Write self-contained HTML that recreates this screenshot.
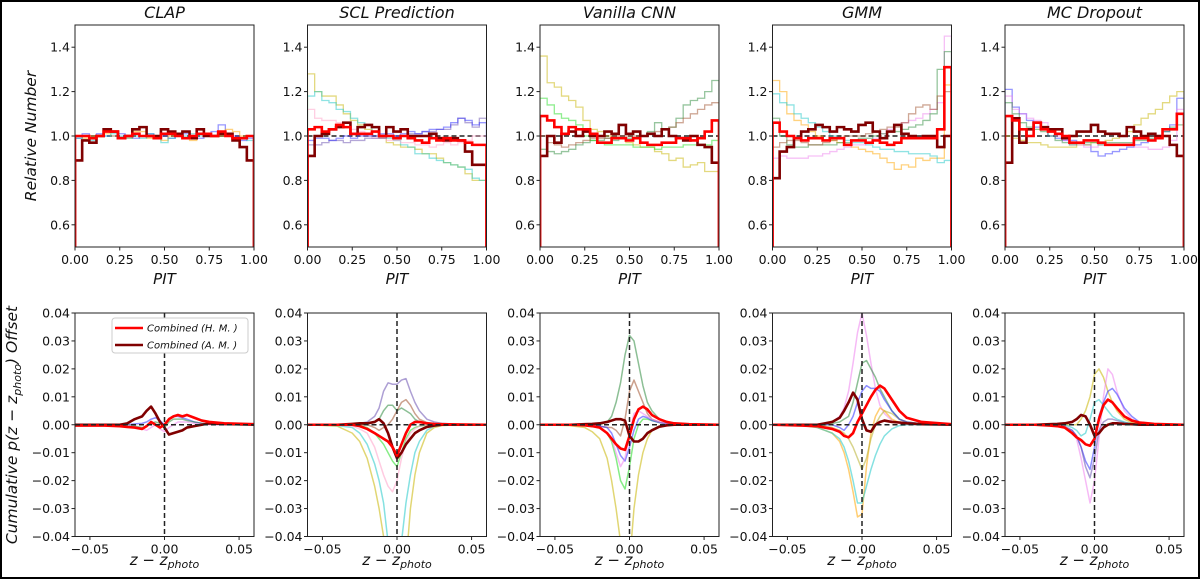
<!DOCTYPE html>
<html><head><meta charset="utf-8"><style>
html,body{margin:0;padding:0;background:#fff;width:1200px;height:579px;overflow:hidden}
svg{display:block}
text{font-family:"DejaVu Sans","Liberation Sans",sans-serif;fill:#111}
</style></head><body>
<svg id="fig" width="1200" height="579" viewBox="0 0 1200 579" xmlns="http://www.w3.org/2000/svg">
<rect x="1" y="1" width="1198" height="577" fill="#fff" stroke="#000" stroke-width="2"/>
</svg>
<script>
// ---- data ----
const titles = ["CLAP","SCL Prediction","Vanilla CNN","GMM","MC Dropout"];
const histTicks = [0.6,0.8,1.0,1.2,1.4];
const histXTicks = [0,0.25,0.5,0.75,1.0];
const histXTickLabels = ["0.00","0.25","0.50","0.75","1.00"];
const cumTicks = [0.04,0.03,0.02,0.01,0,-0.01,-0.02,-0.03,-0.04];
const cumTickLabels = ["0.04","0.03","0.02","0.01","0.00","\u22120.01","\u22120.02","\u22120.03","\u22120.04"];
const cumXTicks = [-0.05,0,0.05];
const cumXTickLabels = ["\u22120.05","0.00","0.05"];
// cumulative x grid (units of 0.001)
const zx = [-60,-40,-30,-25,-20,-15,-12,-9,-6,-3,0,3,6,9,12,15,20,25,30,40,60];

// Histograms (25 bins)
const clapRed = [1.0,1.0,0.99,1.0,1.02,1.02,0.99,1.0,1.01,1.0,1.0,0.99,1.01,1.01,1.0,0.99,1.0,1.01,1.01,1.0,1.02,1.0,0.99,0.99,1.0];
const clapDark = [0.89,0.98,0.97,1.0,1.03,1.02,0.99,1.0,1.03,1.04,1.0,1.0,1.03,1.02,1.01,1.02,0.99,1.03,1.0,1.0,1.01,1.01,0.98,0.95,0.89];
const clapBlue = [0.99,1.01,0.97,1.01,1.0,1.0,1.01,1.0,0.99,1.0,1.01,1.0,1.0,0.99,1.0,1.01,1.0,0.99,1.01,1.02,1.05,1.01,1.0,0.98,0.99];
const clapOrange = [1.0,0.99,1.0,1.0,1.01,1.0,0.99,0.99,1.02,1.02,0.99,1.0,0.98,1.0,1.0,0.99,0.98,1.01,1.0,1.0,1.0,1.03,1.02,1.0,1.0];
const clapCyan = [0.99,1.0,0.98,1.0,1.0,1.01,1.0,0.99,1.0,0.99,1.01,1.0,0.97,0.99,1.0,1.0,1.01,1.0,1.0,1.0,1.01,1.0,0.99,0.99,0.98];
const sclRed = [1.03,1.04,1.02,1.03,1.05,1.04,1.01,1.01,1.01,1.02,1.0,1.0,0.99,1.0,0.99,0.98,0.97,0.99,0.98,0.99,0.98,0.98,0.97,0.96,0.96];
const sclDark = [0.91,1.0,1.01,1.03,1.04,1.06,1.01,1.04,1.05,1.04,1.0,1.04,1.02,1.03,1.0,1.0,1.0,1.01,0.99,0.98,0.99,0.98,0.93,0.87,0.87];
const sclYellow = [1.28,1.2,1.18,1.18,1.14,1.1,1.07,1.05,1.03,1.02,0.99,0.97,0.96,0.95,0.95,0.94,0.92,0.92,0.9,0.88,0.87,0.86,0.83,0.8,0.8];
const sclCyan = [1.18,1.2,1.16,1.15,1.12,1.11,1.08,1.06,1.05,1.02,1.0,0.99,0.98,0.96,0.95,0.92,0.92,0.9,0.89,0.88,0.87,0.86,0.85,0.81,0.8];
const sclPink = [1.12,1.08,1.07,1.07,1.06,1.04,1.03,1.02,1.0,0.99,0.99,0.98,0.98,0.97,0.97,0.96,0.96,0.95,0.96,0.97,0.96,0.97,0.98,1.0,1.0];
const sclPurple = [0.96,0.96,0.97,0.98,0.98,0.97,0.98,0.98,0.99,0.99,0.99,1.0,1.0,1.0,1.01,1.01,1.02,1.02,1.03,1.03,1.05,1.08,1.06,1.04,1.08];
const sclBlue = [0.98,0.99,0.99,0.98,0.99,1.0,0.99,1.0,1.0,1.0,1.01,1.01,1.0,1.01,1.02,1.01,1.02,1.03,1.03,1.04,1.06,1.08,1.07,1.05,1.06];
const cnnRed = [1.09,1.07,1.04,1.01,1.04,1.03,1.03,1.01,0.97,0.97,0.99,0.99,0.98,0.99,0.97,0.96,0.96,0.97,0.97,0.99,0.99,0.98,0.99,1.02,1.07];
const cnnDark = [0.91,1.0,0.97,1.01,1.02,1.0,1.02,1.0,1.0,1.02,1.01,1.05,1.01,1.02,1.0,1.01,1.0,1.03,1.0,0.99,0.98,1.0,0.96,0.95,0.88];
const cnnYellow = [1.36,1.24,1.22,1.18,1.16,1.13,1.07,1.03,1.02,1.0,0.99,0.99,0.97,0.96,0.95,0.95,0.93,0.92,0.89,0.9,0.86,0.87,0.88,0.84,0.84];
const cnnGreen = [0.94,0.93,0.92,0.93,0.94,0.96,0.97,0.98,0.98,0.99,0.98,0.99,0.99,0.99,1.0,1.02,1.06,1.03,1.04,1.08,1.14,1.16,1.17,1.2,1.25];
const cnnLime = [1.17,1.14,1.1,1.08,1.07,1.05,1.0,0.98,0.97,0.96,0.96,0.96,0.96,0.95,0.95,0.95,0.94,0.95,0.95,0.95,0.96,0.96,0.96,0.96,0.98];
const cnnBrown = [1.0,0.97,0.96,0.95,0.96,0.97,0.98,0.99,0.99,0.99,1.0,1.0,1.0,1.0,1.0,1.01,1.02,1.03,1.04,1.06,1.08,1.1,1.12,1.14,1.15];
const gmmRed = [1.06,1.02,1.0,0.99,0.98,0.99,0.99,0.98,0.99,0.99,0.96,0.98,0.98,0.97,0.98,0.97,0.96,0.97,0.99,0.99,0.99,0.99,0.99,1.03,1.31];
const gmmDark = [0.81,0.93,0.95,0.99,1.02,1.03,1.05,1.04,1.02,1.04,1.03,1.02,1.05,1.06,1.02,0.99,1.02,1.05,1.01,1.0,0.99,1.0,1.0,0.95,1.0];
const gmmOrange = [1.25,1.2,1.1,1.07,1.05,1.02,1.0,0.98,0.98,0.97,0.96,0.95,0.94,0.93,0.92,0.9,0.88,0.85,0.87,0.86,0.9,0.89,0.9,0.9,1.23];
const gmmCyan = [1.19,1.15,1.14,1.1,1.08,1.06,1.04,1.02,1.0,0.99,0.98,0.97,0.97,0.96,0.95,0.94,0.94,0.93,0.93,0.92,0.92,0.92,0.91,0.88,0.89];
const gmmViolet = [0.9,0.91,0.9,0.9,0.9,0.91,0.91,0.92,0.93,0.94,0.95,0.96,0.96,0.97,0.99,1.01,1.03,1.05,1.06,1.07,1.08,1.1,1.12,1.15,1.45];
const gmmGreen = [1.08,1.0,0.96,0.95,0.95,0.96,0.96,0.96,0.96,0.97,0.97,0.98,0.99,0.99,1.0,1.01,1.02,1.02,1.03,1.04,1.05,1.07,1.1,1.3,1.38];
const gmmBrown = [0.95,0.97,0.98,0.98,0.97,0.96,0.96,0.97,0.98,0.99,1.0,1.0,1.0,1.01,1.02,1.03,1.04,1.04,1.06,1.1,1.13,1.14,1.12,1.18,1.2];
const mcRed = [1.09,1.07,1.03,1.0,1.06,1.03,1.02,1.01,1.0,0.97,0.97,0.98,0.98,0.97,0.96,0.96,0.96,0.96,0.99,0.99,0.98,0.99,1.03,1.03,1.1];
const mcDark = [0.88,1.08,0.97,1.03,1.06,1.04,1.03,1.03,0.99,1.0,1.02,1.02,1.05,1.02,1.01,1.01,1.0,1.04,1.02,1.0,1.01,1.0,1.0,0.96,0.91];
const mcBlue = [1.21,1.13,1.1,1.07,1.04,1.03,1.0,0.99,0.98,0.98,0.97,0.96,0.93,0.91,0.92,0.93,0.94,0.95,0.96,0.97,0.98,1.0,1.02,1.05,1.17];
const mcYellow = [1.0,0.99,0.98,0.97,0.97,0.96,0.95,0.95,0.95,0.95,0.96,0.96,0.97,0.97,0.98,0.99,1.0,1.02,1.05,1.08,1.1,1.12,1.15,1.18,1.2];
const mcPink = [1.18,1.12,1.1,1.08,1.07,1.06,1.02,1.0,0.98,0.96,0.96,0.95,0.95,0.96,0.96,0.96,0.96,0.96,0.95,0.95,0.94,0.94,0.95,0.98,1.12];
const mcGreen = [1.15,1.1,1.06,1.04,1.03,1.02,1.0,0.98,0.97,0.96,0.97,0.97,0.97,0.96,0.97,0.97,0.97,0.97,0.98,0.98,0.99,1.0,1.02,1.04,1.05];

// Cumulative offsets (units 0.001) on zx grid
const clapCRed = [-0.3,-0.3,-0.5,-0.8,-1,-1.5,-0.5,1,0,-1,0,2,3,3.5,3,3.5,2.5,1.5,1,0.5,0.2];
const clapCDark = [0,0,0,0.5,2,3,5,6.5,4,1,-1,-3.5,-3,-2.5,-2,-1,-0.5,0,0.5,0.3,0];
const clapCBlue = [0,0,0,0,0.3,0.5,1,2,2.5,1.5,0,2,3,3,2.5,2,1,0.5,0.2,0.1,0];
const clapCGreen = [0,0,0,0,-0.5,-1,-0.5,0.5,1,0.5,-1,1,2,2,2,1.5,1,0.5,0.2,0,0];
const clapCPink = [0,0,0,-0.3,-0.8,-1.5,-2,-1,0,-1.5,-2.5,-1,0,1,1,1,0.5,0.2,0,0,0];
const sclCRed = [0,0,0,-0.5,-1.5,-3,-4,-5,-6,-8,-11,-7,-3,0,1,1,0.5,0.3,0.2,0.1,0];
const sclCDark = [0,0,0.3,0.5,0.5,1,2,0.5,-3,-8,-12,-10,-7,-5,-3,-2,-0.8,-0.3,0,0,0];
const sclCYellow = [0,-0.5,-3,-6,-12,-22,-30,-40,-60,-80,-90,-70,-50,-30,-18,-10,-3,-1,-0.3,0,0];
const sclCCyan = [0,-0.3,-1,-3,-7,-14,-20,-28,-42,-60,-80,-42,-28,-18,-10,-6,-2,-0.5,-0.2,0,0];
const sclCPurple = [0,0,0.3,0.5,1,3,6,12,15,14.5,14.5,16,16.5,12,8,5,2,1,0.5,0.2,0];
const sclCLime = [0,0,0,-0.3,-1,-3,-5,-7,-10,-13,-15,-10,-5,-2,-1,-0.5,-0.2,0,0,0,0];
const sclCPink = [0,0,-0.5,-1.5,-3,-8,-13,-18,-22,-24,-20,-12,-6,-3,-1.5,-0.5,0,0,0,0,0];
const sclCGreen = [0,0,0,0,0.5,1,2,5,7,7,5,6,5,4,2,1,0.5,0,0,0,0];
const sclCBrown = [0,0,0,0,0,-1,-2,-1,0,2,5,8,9,7,4,2,0.8,0.3,0,0,0];
const cnnCRed = [0,0,-0.2,-0.5,-1,-3,-5,-7,-8.5,-9,-4,2,5.5,6.5,5.5,3.5,2,1,0.5,0.2,0];
const cnnCDark = [0,0,0.2,0.3,0.5,1,1.5,2,2,1.5,-4,-6,-6,-5,-3,-2,-0.7,-0.2,0,0,0];
const cnnCGreen = [0,0,0,0,0,1,3,8,15,25,32,30,22,14,8,5,2,0.8,0.3,0.1,0];
const cnnCYellow = [0,-0.3,-1,-2.5,-5,-12,-20,-30,-42,-60,-50,-30,-18,-10,-5,-2,-0.5,0,0,0,0];
const cnnCLime = [0,0,0,-0.5,-1,-3,-6,-12,-20,-23,-15,-5,0,2,2,1.5,0.8,0.3,0,0,0];
const cnnCBrown = [0,0,0,0,-0.5,-1,-1,-2,-4,2,12,16,12,8,4,2,1,0.3,0,0,0];
const cnnCBlue = [0,0,0,0,-0.5,-1,-3,-7,-11,-13,-8,-2,2,3,2.5,1.5,0.8,0.3,0,0,0];
const cnnCViolet = [0,0,0,0,-1,-3,-5,-10,-15,-12,-3,4,5,4,3,2,1,0.3,0,0,0];
const gmmCRed = [0,-0.3,-0.5,-1,-1.5,-2.5,-4,-4.5,-3,1,4,7,10,12.5,14,13,9,5,2.5,1,0.2];
const gmmCDark = [0,0,0,0.5,1,2.5,5,8,11.5,9,2,-2,-2.5,0,1,1.5,1,0.8,0.5,0.2,0];
const gmmCPink = [0,0,0.2,0.5,1,3,6,12,22,33,40,32,22,13,7,4,1.5,0.5,0.2,0,0];
const gmmCOrange = [0,-0.3,-1,-2,-3,-6,-10,-16,-24,-33,-32,-15,-3,3,6,5,2,0.8,0.3,0,0];
const gmmCCyan = [0,-0.2,-1,-2,-3,-5,-8,-13,-20,-28,-28,-22,-16,-11,-7,-4,-1.5,-0.3,0,0,0];
const gmmCGreen = [0,0,0,0,0.5,1,2,3,8,15,22,23,20,17,13,10,5,2,1,0.3,0];
const gmmCOlive = [0,0,-0.3,-0.5,-1,-2,-3,-5,-8,-12,-16,-12,-5,0,3,5,4,2,1,0.3,0];
const gmmCBlue = [0,0,0,0,0,-1,-2,0,3,8,12,14,13,13,12,9,5,2,1,0.3,0];
const mcCRed = [0,0,-0.3,-0.5,-1,-3,-4.5,-5.5,-7,-7.5,-5,2,7,9,8,6,3,1.5,0.8,0.3,0];
const mcCDark = [0,0,0.2,0.3,0.5,1,2,3.5,3,0,-4,-3,-1,0,0.5,0.5,0.3,0.2,0,0,0];
const mcCYellow = [0,0,0,0,0,0,0,2,5,10,18,20,17,12,8,5,2,0.8,0.3,0,0];
const mcCPink = [0,0,0,-0.3,-1,-3,-5,-12,-20,-28,-20,-5,10,20,18,12,5,2,0.8,0.2,0];
const mcCBlue = [0,0,0,-0.3,-1,-2,-4,-8,-13,-16,-8,3,8,12,13,11,6,3,1,0.3,0];
const mcCViolet = [0,0,0,0,-0.5,-2,-4,-8,-15,-19,-12,-2,1,2,2,1.5,0.8,0.3,0,0,0];
const mcCCyan = [0,0,0,0,0,-1,-2,-4,-3,2,8,9,7,5,3,2,1,0.3,0,0,0];

const C = {red:"#ff0000",dark:"#800000",yellow:"#c8b400",cyan:"#20c8c8",green:"#2e8b3e",lime:"#22dd22",pink:"#ffa0c8",violet:"#ee82ee",blue:"#3030ff",purple:"#6a50b0",brown:"#a0522d",orange:"#ffa500",olive:"#b8b030"};
const panelsHist = [
 [[clapBlue,"blue"],[clapOrange,"orange"],[clapCyan,"cyan"],[clapDark,"dark"],[clapRed,"red"]],
 [[sclYellow,"yellow"],[sclCyan,"cyan"],[sclPink,"pink"],[sclPurple,"purple"],[sclBlue,"blue"],[sclDark,"dark"],[sclRed,"red"]],
 [[cnnYellow,"yellow"],[cnnGreen,"green"],[cnnLime,"lime"],[cnnBrown,"brown"],[cnnDark,"dark"],[cnnRed,"red"]],
 [[gmmOrange,"orange"],[gmmCyan,"cyan"],[gmmViolet,"violet"],[gmmGreen,"green"],[gmmBrown,"brown"],[gmmDark,"dark"],[gmmRed,"red"]],
 [[mcBlue,"blue"],[mcYellow,"yellow"],[mcPink,"violet"],[mcGreen,"green"],[mcDark,"dark"],[mcRed,"red"]]
];
const panelsCum = [
 [[clapCBlue,"blue"],[clapCGreen,"green"],[clapCPink,"violet"],[clapCDark,"dark"],[clapCRed,"red"]],
 [[sclCYellow,"yellow"],[sclCCyan,"cyan"],[sclCPurple,"purple"],[sclCLime,"lime"],[sclCPink,"pink"],[sclCGreen,"green"],[sclCBrown,"brown"],[sclCDark,"dark"],[sclCRed,"red"]],
 [[cnnCGreen,"green"],[cnnCYellow,"yellow"],[cnnCLime,"lime"],[cnnCBrown,"brown"],[cnnCBlue,"blue"],[cnnCViolet,"violet"],[cnnCDark,"dark"],[cnnCRed,"red"]],
 [[gmmCPink,"violet"],[gmmCOrange,"orange"],[gmmCCyan,"cyan"],[gmmCGreen,"green"],[gmmCOlive,"olive"],[gmmCBlue,"blue"],[gmmCDark,"dark"],[gmmCRed,"red"]],
 [[mcCYellow,"yellow"],[mcCPink,"violet"],[mcCBlue,"blue"],[mcCViolet,"purple"],[mcCCyan,"cyan"],[mcCDark,"dark"],[mcCRed,"red"]]
];

// ---- drawing ----
const NS="http://www.w3.org/2000/svg";
const svg=document.getElementById("fig");
function mk(tag,attrs,parent){const e=document.createElementNS(NS,tag);for(const k in attrs)e.setAttribute(k,attrs[k]);(parent||svg).appendChild(e);return e;}
const PL=[75,307.5,540,772.5,1005], PW=179;
const TT=25,TB=247, BT=313,BB=536.5;
// clip polyline to y range [lo,hi] (pixel), returns array of segments
function clipPoly(pts,lo,hi){
  const segs=[];let cur=[];
  const inR=p=>p[1]>=lo&&p[1]<=hi;
  const cross=(a,b,y)=>[a[0]+(b[0]-a[0])*(y-a[1])/(b[1]-a[1]),y];
  for(let i=0;i<pts.length;i++){
    const p=pts[i];
    if(i>0){const a=pts[i-1];
      if(inR(a)&&!inR(p)){cur.push(cross(a,p,p[1]>hi?hi:lo));segs.push(cur);cur=[];}
      else if(!inR(a)&&inR(p)){cur=[cross(a,p,a[1]>hi?hi:lo)];}
    }
    if(inR(p))cur.push(p);
  }
  if(cur.length)segs.push(cur);
  return segs;
}
const defs=mk("defs",{});
PL.forEach((x0,i)=>{
  const hx=v=>x0+v*PW, hy=v=>TB-(v-0.5)/1.0*(TB-TT);
  const cx=v=>x0+(v+0.06)/0.12*PW, cy=v=>BB-(v+0.04)/0.08*(BB-BT);
  const c1=mk("clipPath",{id:"ct"+i},defs);mk("rect",{x:x0,y:TT,width:PW,height:TB-TT},c1);
  const c2=mk("clipPath",{id:"cb"+i},defs);mk("rect",{x:x0,y:BT,width:PW,height:BB-BT},c2);
  const t=mk("text",{x:x0+PW/2,y:18,"text-anchor":"middle","font-size":"16","font-style":"italic"});t.textContent=titles[i];
  
  
  const gt=mk("g",{"clip-path":"url(#ct"+i+")"});
  
  
  mk("line",{x1:x0,x2:x0+PW,y1:hy(1),y2:hy(1),stroke:"#222","stroke-width":1.5,"stroke-dasharray":"5,3"},gt);
  panelsHist[i].forEach(([vals,col])=>{
    const n=vals.length;let d="M"+hx(0)+","+hy(0.5);
    vals.forEach((v,k)=>{d+=" L"+hx(k/n)+","+hy(v)+" L"+hx((k+1)/n)+","+hy(v);});
    d+=" L"+hx(1)+","+hy(0.5);
    const main=(col==="red"||col==="dark");
    const p=mk("path",{d:d,fill:"none",stroke:C[col],"stroke-width":main?2.6:1.3,opacity:main?1:0.5},gt);
    
    
  });
  const ft=mk("rect",{x:x0,y:TT,width:PW,height:TB-TT,fill:"none",stroke:"#222","stroke-width":1});
  
  
  histTicks.forEach(v=>{mk("line",{x1:x0-3.5,x2:x0,y1:hy(v),y2:hy(v),stroke:"#222"});
    const tl=mk("text",{x:x0-5,y:hy(v)+4.5,"text-anchor":"end","font-size":"12.5"});tl.textContent=v.toFixed(1);
    
    });
  histXTicks.forEach((v,k)=>{mk("line",{x1:hx(v),x2:hx(v),y1:TB,y2:TB+3.5,stroke:"#222"});
    const tl=mk("text",{x:hx(v),y:TB+17,"text-anchor":"middle","font-size":"12.5"});tl.textContent=histXTickLabels[k];
    
    });
  const xl=mk("text",{x:x0+PW/2,y:284,"text-anchor":"middle","font-size":"15","font-style":"italic"});xl.textContent="PIT";
  
  
  const gb=mk("g",{"clip-path":"url(#cb"+i+")"});
  
  
  panelsCum[i].forEach(([vals,col])=>{
    const pts=vals.map((v,k)=>[cx(zx[k]/1000),cy(v/1000)]);
    const segs=clipPoly(pts,BT,BB);
    let d="";segs.forEach(s=>s.forEach((p,k)=>{d+=(k?" L":" M")+p[0].toFixed(2)+","+p[1].toFixed(2);}));
    const main=(col==="red"||col==="dark");
    const p=mk("path",{d:d,fill:"none",stroke:C[col],"stroke-width":main?2.6:1.5,opacity:main?1:0.55,"stroke-linejoin":"round"},gb);
    
    
  });
  mk("line",{x1:x0,x2:x0+PW,y1:cy(0),y2:cy(0),stroke:"#222","stroke-width":1.5,"stroke-dasharray":"5,3"},gb);
  mk("line",{x1:cx(0),x2:cx(0),y1:BT,y2:BB,stroke:"#222","stroke-width":1.5,"stroke-dasharray":"5,3"},gb);
  const fb=mk("rect",{x:x0,y:BT,width:PW,height:BB-BT,fill:"none",stroke:"#222","stroke-width":1});
  
  
  cumTicks.forEach((v,k)=>{mk("line",{x1:x0-3.5,x2:x0,y1:cy(v),y2:cy(v),stroke:"#222"});
    const tl=mk("text",{x:x0-5,y:cy(v)+4.5,"text-anchor":"end","font-size":"12.5"});tl.textContent=cumTickLabels[k];
    
    });
  cumXTicks.forEach((v,k)=>{mk("line",{x1:cx(v),x2:cx(v),y1:BB,y2:BB+3.5,stroke:"#222"});
    const tl=mk("text",{x:cx(v),y:BB+17,"text-anchor":"middle","font-size":"12.5"});tl.textContent=cumXTickLabels[k];
    
    });
  const zl=mk("text",{x:x0+PW/2,y:565,"text-anchor":"middle","font-size":"15","font-style":"italic"});
  zl.innerHTML='z \u2212 z<tspan font-size="11" dy="3">photo</tspan>';
  
  
});
const yt1=mk("text",{x:0,y:0,"text-anchor":"middle","font-size":"15.5","font-style":"italic",transform:"translate(36,136) rotate(-90)"});
yt1.textContent="Relative Number";


const yt2=mk("text",{x:0,y:0,"text-anchor":"middle","font-size":"15.5","font-style":"italic",transform:"translate(17,425) rotate(-90)"});
yt2.innerHTML='Cumulative p(z \u2212 z<tspan font-size="11" dy="4">photo</tspan><tspan dy="-4">) Offset</tspan>';


const lg=mk("g",{});


mk("rect",{x:112,y:318,width:136,height:35,rx:3,fill:"#fff",stroke:"#ccc","stroke-width":1},lg);
[["Combined (H. M. )","red",328],["Combined (A. M. )","dark",345]].forEach(([lab,col,y])=>{
  mk("line",{x1:115,x2:143,y1:y,y2:y,stroke:C[col],"stroke-width":2.6},lg);
  const t=mk("text",{x:147,y:y+3.5,"font-size":"10","font-style":"italic"},lg);t.textContent=lab;
  
  
});
</script>
</body></html>
